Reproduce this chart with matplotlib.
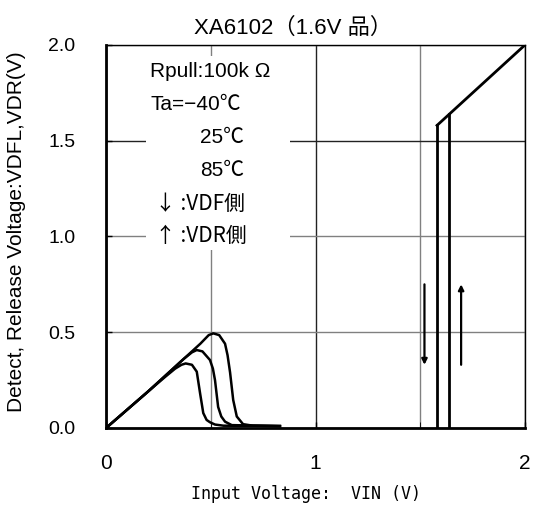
import numpy as np
import matplotlib.pyplot as plt
from matplotlib.patches import Rectangle

plt.rcParams['font.family'] = ['Liberation Sans', 'Noto Sans CJK JP', 'DejaVu Sans']

# low-voltage region, three temperatures
x_lo1 = [0, 0.1, 0.2, 0.28, 0.33, 0.36, 0.38, 0.41, 0.433, 0.449, 0.464, 0.48, 0.496, 0.52, 0.56, 0.83]
y_lo1 = [0, 0.095, 0.19, 0.265, 0.31, 0.33, 0.337, 0.33, 0.294, 0.18, 0.078, 0.042, 0.03, 0.018, 0.012, 0.01]

x_lo2 = [0, 0.1, 0.2, 0.3, 0.37, 0.41, 0.433, 0.46, 0.496, 0.51, 0.52, 0.535, 0.55, 0.568, 0.6, 0.83]
y_lo2 = [0, 0.095, 0.19, 0.29, 0.36, 0.395, 0.407, 0.40, 0.355, 0.31, 0.25, 0.11, 0.06, 0.033, 0.015, 0.01]

x_lo3 = [0, 0.1, 0.2, 0.3, 0.4, 0.45, 0.49, 0.512, 0.54, 0.568, 0.58, 0.592, 0.607, 0.624, 0.654, 0.7, 0.83]
y_lo3 = [0, 0.095, 0.19, 0.29, 0.39, 0.44, 0.485, 0.494, 0.485, 0.44, 0.38, 0.29, 0.146, 0.06, 0.02, 0.012, 0.01]

# detect / release thresholds
vdf = 1.58
vdr = 1.637
x_hi = [vdf, 2.0]
y_hi = [vdf, 2.0]

legend_lines = ['Rpull:100k Ω', 'Ta=−40℃', '25℃', '85℃', '↓ :VDF側', '↑ :VDR側']
legend_x = [0.21, 0.21, 0.45, 0.45, 0.235, 0.235]

fig = plt.figure(figsize=(5.33, 5.05), dpi=100)
ax = fig.add_axes([0.199, 0.1525, 0.786, 0.7585])

for xs, ys in [(x_lo1, y_lo1), (x_lo2, y_lo2), (x_lo3, y_lo3)]:
    ax.plot(xs, ys, color='black', lw=1.8, solid_joinstyle='round', zorder=3)

ax.plot([vdf, vdf], [0, vdf], color='black', lw=2, zorder=3)
ax.plot([vdr, vdr], [0, vdr], color='black', lw=2, zorder=3)
ax.plot(x_hi, y_hi, color='black', lw=2, zorder=3)

# arrows
ax.annotate('', xy=(1.52, 0.33), xytext=(1.52, 0.75),
            arrowprops=dict(arrowstyle='-|>', color='black', lw=1.6, mutation_scale=8, shrinkA=0, shrinkB=0))
ax.annotate('', xy=(1.695, 0.75), xytext=(1.695, 0.33),
            arrowprops=dict(arrowstyle='-|>', color='black', lw=1.6, mutation_scale=8, shrinkA=0, shrinkB=0))

ax.set_xlim(0, 2)
ax.set_ylim(0, 2)
ax.set_xticks([0, 1, 2])
ax.set_xticks([0.5, 1.5], minor=True)
ax.set_yticks([0, 0.5, 1.0, 1.5, 2.0])
ax.set_yticklabels(['0.0', '0.5', '1.0', '1.5', '2.0'])
ax.grid(True, which='minor', axis='x', color='#808080', lw=1)
ax.grid(True, which='major', axis='x', color='#222222', lw=1)
ax.grid(True, which='major', axis='y', color='#808080', lw=1)
ax.get_ygridlines()[3].set_color('#222222')
ax.set_axisbelow(True)
ax.tick_params(direction='in', length=4, width=1, labelsize=14)
ax.tick_params(axis='x', pad=19, labelsize=15)
ax.tick_params(axis='y', pad=22)
ax.tick_params(which='minor', direction='in', length=4)
ax.spines['left'].set_linewidth(2)
ax.spines['bottom'].set_linewidth(2)
ax.spines['top'].set_linewidth(1)
ax.spines['right'].set_linewidth(1)

# white panel behind the legend text
ax.add_patch(Rectangle((0.19, 0.93), 0.69, 1.01, facecolor='white', edgecolor='none', zorder=2))

ax.set_title('XA6102（1.6V 品）', fontsize=16, pad=8, x=0.446)
ax.set_xlabel('Input Voltage:  VIN (V)', fontsize=12, family=['DejaVu Sans Mono'])
ax.xaxis.set_label_coords(0.478, -0.148)
ax.set_ylabel('Detect, Release Voltage:VDFL,VDR(V)', fontsize=15)
ax.yaxis.set_label_coords(-0.19, 0.512)

for i, s in enumerate(legend_lines):
    fam = ['Noto Sans CJK JP', 'DejaVu Sans'] if s[0] in '↓↑' else None
    ax.text(legend_x[i], 1.86 - i * 0.172, s, fontsize=15, ha='left', va='center',
            zorder=4, family=fam)

fig.savefig('out.png', dpi=100)
